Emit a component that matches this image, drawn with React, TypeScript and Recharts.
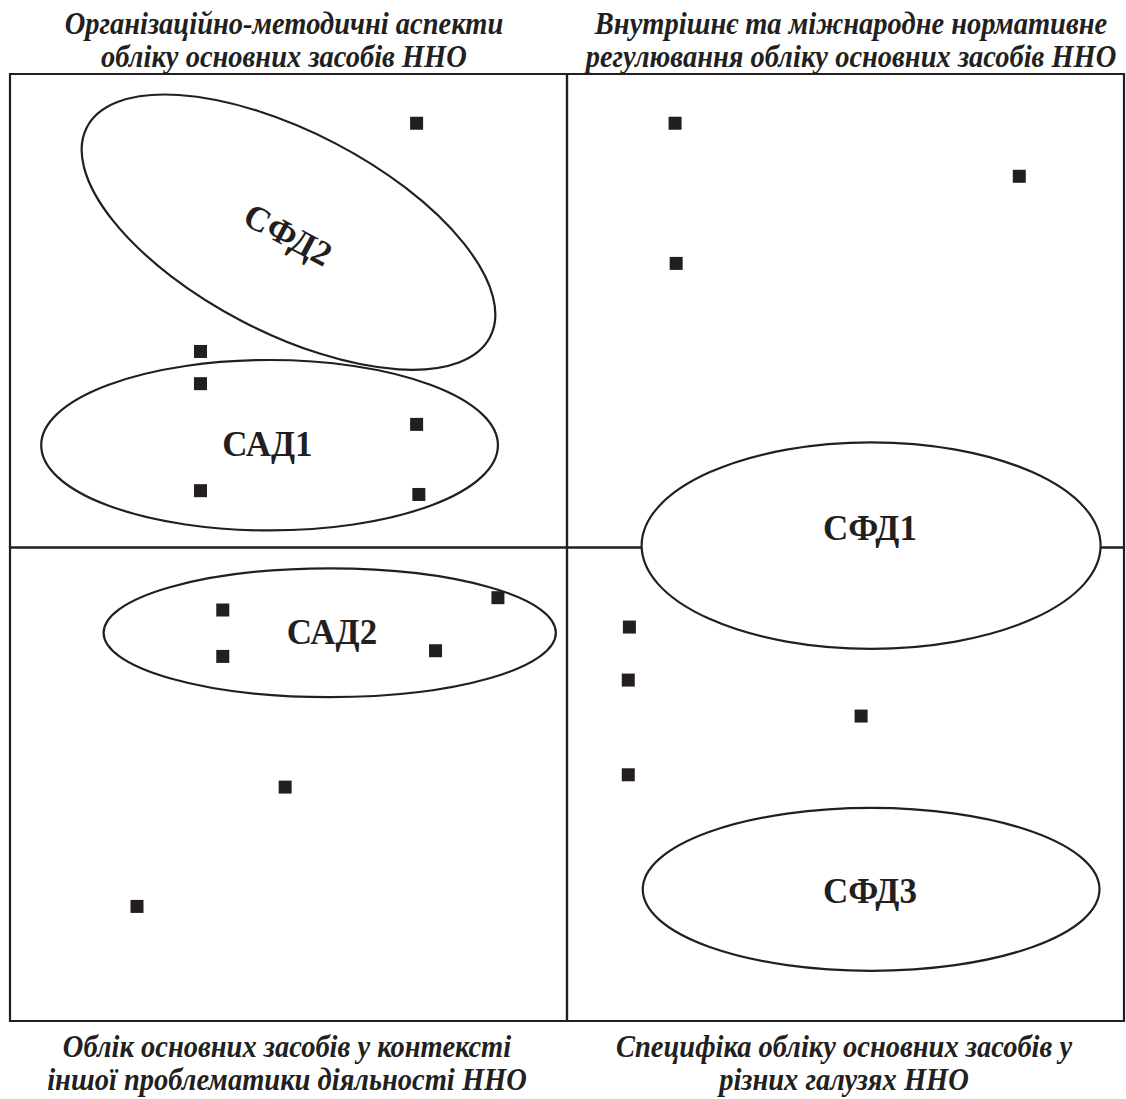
import React from "react";
import {
  ScatterChart,
  Scatter,
  XAxis,
  YAxis,
  ReferenceArea,
  ReferenceDot,
} from "recharts";

// Point coordinates (x, y) in a 0..100 × 0..100 perceptual-map space
const pointX = [36.5, 17.1, 17.1, 36.5, 17.1, 36.7, 59.7, 90.6, 59.8, 19.1, 19.1, 43.8, 38.2, 24.7, 11.4, 55.6, 55.5, 76.4, 55.5];
const pointY = [94.8, 70.7, 67.3, 63.0, 56.0, 55.6, 94.8, 89.2, 80.0, 43.4, 38.5, 44.7, 39.1, 24.7, 12.1, 41.6, 36.0, 32.2, 26.0];

// Quadrant boundaries (x1, x2, y1, y2)
const quadX1 = [0, 50, 0, 50];
const quadX2 = [50, 100, 50, 100];
const quadY1 = [50, 50, 0, 0];
const quadY2 = [100, 100, 50, 50];

// Cluster ellipses (centre, radii in axis units, rotation in degrees)
const clusterNames = ["СФД2", "САД1", "САД2", "СФД1", "СФД3"];
const clusterCX = [25.0, 23.3, 28.7, 77.3, 77.3];
const clusterCY = [83.3, 60.8, 41.0, 50.2, 13.9];
const clusterRX = [20.4, 20.5, 20.3, 20.6, 20.5];
const clusterRY = [10.6, 9.0, 6.8, 10.9, 8.6];
const clusterAngle = [27.5, 0, 0, 0, 0];
const labelX = [24.95, 23.1, 28.9, 77.2, 77.2];
const labelY = [83.0, 60.9, 41.0, 52.0, 13.7];
const labelAngle = [28, 0, 0, 0, 0];

// Quadrant captions
const topLeftTitle = ["Організаційно-методичні аспекти", "обліку основних засобів ННО"];
const topRightTitle = ["Внутрішнє та міжнародне нормативне", "регулювання обліку основних засобів ННО"];
const bottomLeftTitle = ["Облік основних засобів у контексті", "іншої проблематики діяльності ННО"];
const bottomRightTitle = ["Специфіка обліку основних засобів у", "різних галузях ННО"];

const points = pointX.map((x, i) => ({ x, y: pointY[i] }));

const INK = "#231f20";
const SERIF = "'Liberation Serif', 'Times New Roman', serif";

const Square = (props: any) => {
  const { cx, cy } = props;
  if (cx == null || cy == null) return null;
  const s = 13;
  return <rect x={cx - s / 2} y={cy - s / 2} width={s} height={s} fill={INK} />;
};

const titleStyle: React.CSSProperties = {
  position: "absolute",
  width: 640,
  textAlign: "center",
  fontFamily: SERIF,
  fontWeight: "bold",
  fontStyle: "italic",
  fontSize: 28.5,
  lineHeight: "31px",
  color: INK,
  whiteSpace: "nowrap",
  transform: "scaleY(1.08)",
  transformOrigin: "top",
};

const Title = ({ lines, center, top }: { lines: string[]; center: number; top: number }) => (
  <div style={{ ...titleStyle, left: center - 320, top }}>
    {lines.map((t) => (
      <div key={t}>{t}</div>
    ))}
  </div>
);

export default function App() {
  return (
    <div style={{ position: "relative", width: 1126, height: 1099, overflow: "hidden", background: "#fff" }}>
      <style>{"body{margin:0}"}</style>
      <ScatterChart
        width={1126}
        height={1099}
        margin={{ top: 74, right: 2, bottom: 78, left: 10 }}
      >
        <XAxis type="number" dataKey="x" domain={[0, 100]} hide />
        <YAxis type="number" dataKey="y" domain={[0, 100]} hide />
        {quadX1.map((_, i) => (
          <ReferenceArea
            key={"q" + i}
            x1={quadX1[i]}
            x2={quadX2[i]}
            y1={quadY1[i]}
            y2={quadY2[i]}
            fill="none"
            fillOpacity={0}
            stroke={INK}
            strokeWidth={2.2}
          />
        ))}
        {clusterNames.map((name, i) => (
          <ReferenceArea
            key={name}
            x1={clusterCX[i] - clusterRX[i]}
            x2={clusterCX[i] + clusterRX[i]}
            y1={clusterCY[i] - clusterRY[i]}
            y2={clusterCY[i] + clusterRY[i]}
            ifOverflow="visible"
            shape={(p: any) => {
              const cx = p.x + p.width / 2;
              const cy = p.y + p.height / 2;
              return (
                <ellipse
                  cx={cx}
                  cy={cy}
                  rx={Math.abs(p.width) / 2}
                  ry={Math.abs(p.height) / 2}
                  fill="#ffffff"
                  stroke={INK}
                  strokeWidth={2.2}
                  transform={`rotate(${clusterAngle[i]} ${cx} ${cy})`}
                />
              );
            }}
          />
        ))}
        {clusterNames.map((name, i) => (
          <ReferenceDot
            key={"l" + name}
            x={labelX[i]}
            y={labelY[i]}
            r={1}
            ifOverflow="visible"
            shape={(p: any) => (
              <text
                x={p.cx}
                y={p.cy}
                textAnchor="middle"
                dominantBaseline="central"
                fontFamily={SERIF}
                fontWeight="bold"
                fontSize={35}
                fill={INK}
                transform={`rotate(${labelAngle[i]} ${p.cx} ${p.cy})`}
              >
                {name}
              </text>
            )}
          />
        ))}
        <Scatter data={points} shape={<Square />} isAnimationActive={false} />
      </ScatterChart>
      <Title lines={topLeftTitle} center={284} top={6.5} />
      <Title lines={topRightTitle} center={851} top={6.5} />
      <Title lines={bottomLeftTitle} center={287} top={1030} />
      <Title lines={bottomRightTitle} center={844} top={1030} />
    </div>
  );
}
